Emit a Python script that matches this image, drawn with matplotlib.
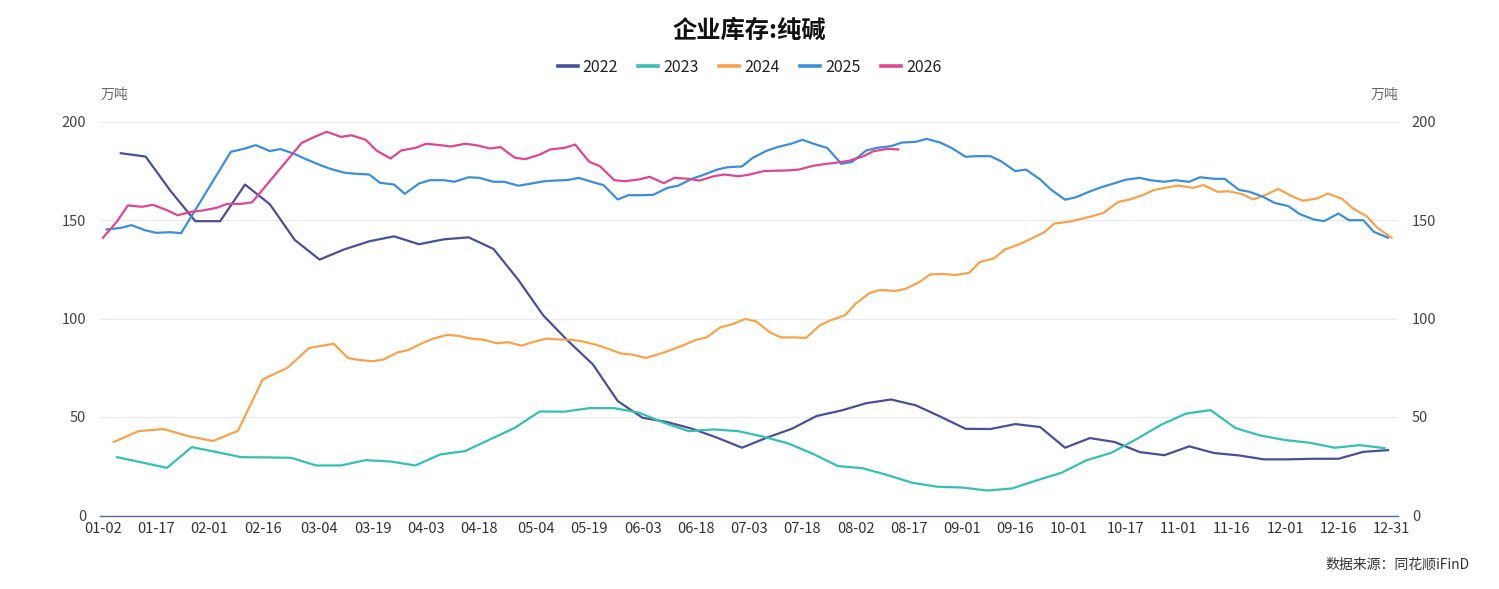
import matplotlib
matplotlib.use('Agg')
import matplotlib.pyplot as plt
from matplotlib.lines import Line2D
import pandas as pd

plt.rcParams['font.family'] = ['Noto Sans CJK SC', 'DejaVu Sans']

# Data
title = '企业库存:纯碱'
unit = '万吨'
source = '数据来源：同花顺iFinD'
years = ['2022', '2023', '2024', '2025', '2026']
colors = ['#4a5096', '#35c0b1', '#f6a34e', '#3d8ed8', '#df4690']

tick_labels = ['01-02', '01-17', '02-01', '02-16', '03-04', '03-19', '04-03', '04-18',
               '05-04', '05-19', '06-03', '06-18', '07-03', '07-18', '08-02', '08-17',
               '09-01', '09-16', '10-01', '10-17', '11-01', '11-16', '12-01', '12-16', '12-31']

# 2022, 2023: weekly (Fridays)
v2022 = [183.9, 182.2, 164.8, 149.4, 149.4, 168, 158, 139.9, 129.9, 135.1,
         139.2, 141.7, 137.7, 140.2, 141.2, 135.3, 119.6, 101.6, 88.6, 76.7,
         58.1, 49.6, 47.4, 44, 39.5, 34.4, 39.5, 44, 50.5, 53.3,
         57, 58.9, 55.9, 50.1, 44, 43.9, 46.4, 44.9, 34.4, 39.3,
         37.3, 32.2, 30.6, 35.1, 31.7, 30.5, 28.5, 28.5, 28.8, 28.8,
         32.3, 33.2]
v2023 = [29.6, 26.9, 24.2, 34.7, 32.2, 29.6, 29.5, 29.3, 25.4, 25.4,
         28.1, 27.4, 25.4, 31, 32.7, 38.6, 44.5, 52.8, 52.7, 54.5,
         54.5, 52.2, 47.1, 42.8, 43.7, 42.8, 40, 36.6, 31.3, 25.1,
         24, 20.5, 16.6, 14.6, 14.2, 12.7, 13.7, 17.8, 21.7, 28,
         31.8, 38.6, 46, 51.7, 53.5, 44.4, 40.6, 38.3, 36.9, 34.4,
         35.7, 34.2]

# 2024: weekly until 03-08, then Tue/Fri
v2024 = [37.3, 42.8, 43.9, 40.3, 37.8, 43, 69.1, 75, 85, 87.2,
         79.9, 79, 78.3, 79.2, 82.8, 84, 87.6, 89.8, 91.7, 91.2,
         89.7, 89.3, 87.4, 88, 86.2, 88, 89.8, 89.4, 89.2, 88.4,
         86.6, 84.8, 82.2, 81.7, 80, 81.6, 84, 86.1, 89.1, 90.4,
         95.6, 96.9, 99.8, 98.5, 92.8, 90.4, 90.4, 90.1, 96.6, 99.1,
         101.6, 107.5, 113, 114.5, 114, 115, 118.5, 122.4, 122.6, 122,
         123.2, 128.7, 130.5, 135, 137.6, 140.1, 143.6, 148.2, 149.1, 150.3,
         152.1, 153.8, 159.2, 160.3, 162.7, 165.2, 166.6, 167.5, 166.3, 167.7,
         164.3, 164.6, 163.1, 160.4, 163.1, 165.8, 162, 159.8, 160.9, 163.4,
         160.8, 156, 151.9, 146, 141]

# 2025: Tue/Fri, no data over the spring festival
v2025 = [145.2, 146, 147.4, 144.7, 143.5, 143.8, 143.3,
         184.6, 186.3, 188, 185, 186, 183.5, 181, 178, 176, 174,
         173.5, 173.1, 168.9, 168, 163.3, 168.5, 170.2, 170.2, 169.4, 171.7,
         171.4, 169.4, 169.4, 167.4, 168.3, 169.6, 170, 170.3, 171.4, 169.2,
         167.7, 160.4, 162.6, 162.6, 162.8, 166.3, 167.4, 171, 172.8, 175.6,
         176.8, 177.2, 181.5, 185.2, 187, 188.8, 190.7, 188.2, 186.6, 178.5,
         179.5, 185.3, 186.6, 187.5, 189.3, 189.7, 191.2, 189.2, 186.6, 182.1,
         182.4, 182.4, 179.8, 174.8, 175.6, 170.6, 165.5, 160.3, 161.5, 164.5,
         166.5, 168.7, 170.4, 171.4, 170.2, 169.4, 170.2, 169.4, 171.7, 170.9,
         170.9, 165.3, 164.3, 161.6, 158.7, 157, 153.1, 150.3, 149.4, 153.3,
         149.9, 149.9, 144, 141]

# 2026: Tue/Fri, no data over the spring festival
v2026 = [141, 149.4, 157.4, 156.7, 157.7, 155, 152.4, 154.2, 154.8, 156.2, 158.2, 158.2, 159,
         189.2, 192.5, 194.8, 192.2, 193, 190.7, 185.3, 181.2, 185.3, 186.6,
         188.7, 188, 187.3, 188.7, 188, 186.3, 187, 181.6, 180.9, 183.2,
         185.8, 186.6, 188.3, 179.5, 177.3, 170.2, 169.7, 170.6, 171.9, 168.7,
         171.4, 170.9, 170, 172.2, 173.1, 172.2, 173, 174.8, 175, 175.2,
         175.6, 177.5, 178.3, 179.2, 180, 182.2, 184.9, 186.1, 185.8]


def tue_fri(start, end):
    d = pd.date_range(start, end, freq='D')
    return d[d.weekday.isin([1, 4])]


d2022 = pd.date_range('2022-01-07', periods=len(v2022), freq='7D')
d2023 = pd.date_range('2023-01-06', periods=len(v2023), freq='7D')
d2024 = pd.date_range('2024-01-05', '2024-03-08', freq='7D').append(tue_fri('2024-03-12', '2024-12-31'))
d2025 = tue_fri('2025-01-03', '2025-01-24').append(tue_fri('2025-02-07', '2025-12-30'))
d2026 = tue_fri('2026-01-02', '2026-02-13').append(tue_fri('2026-02-27', '2026-08-14'))

series = [(d2022, v2022), (d2023, v2023), (d2024, v2024), (d2025, v2025), (d2026, v2026)]

origin = pd.Timestamp('2023-01-02')


def day_pos(dates):
    # place every year on the same month-day axis
    mmdd = pd.to_datetime('2023-' + pd.Index(dates).strftime('%m-%d'))
    return (mmdd - origin).days


W, H = 1499, 589
fig = plt.figure(figsize=(W / 100, H / 100), dpi=100)
ax = fig.add_axes([100 / W, 1 - 515.5 / H, 1298 / W, 394 / H])

for (dates, vals), c, y in zip(series, colors, years):
    ax.plot(day_pos(dates), vals, color=c, lw=1.6, label=y, solid_joinstyle='round')

ax.set_xlim(-0.85, 364.8)
ax.set_ylim(0, 200)
ax.set_xticks(day_pos(pd.to_datetime(['2023-' + t for t in tick_labels])))
ax.set_xticklabels(tick_labels)
ax.set_yticks([0, 50, 100, 150, 200])
ax.tick_params(axis='x', length=0, pad=4.5, labelsize=10.5, labelcolor='#333333')
ax.tick_params(axis='y', length=0, pad=10, labelsize=10.5, labelcolor='#444444')
for s in ['top', 'right', 'left']:
    ax.spines[s].set_visible(False)
ax.spines['bottom'].set_color('#5b6797')
ax.spines['bottom'].set_linewidth(1.0)
ax.yaxis.grid(True, color='#e8e9f0', lw=0.8)
ax.set_axisbelow(True)

ax2 = ax.twinx()
ax2.set_ylim(0, 200)
ax2.set_yticks([0, 50, 100, 150, 200])
ax2.tick_params(axis='y', length=0, pad=10, labelsize=10.5, labelcolor='#444444')
for s in ax2.spines.values():
    s.set_visible(False)

fig.text(0.5, 1 - 30.5 / H, title, ha='center', va='center', fontsize=17.5, fontweight='bold', color='#111111')
fig.text(114.5 / W, 1 - 95 / H, unit, ha='center', va='center', fontsize=10, color='#666666')
fig.text(1384 / W, 1 - 95 / H, unit, ha='center', va='center', fontsize=10, color='#666666')
fig.text(1470 / W, 1 - 565 / H, source, ha='right', va='center', fontsize=10, color='#333333')

handles = [Line2D([], [], color=c, lw=2.6) for c in colors]
fig.legend(handles, years, loc='center', bbox_to_anchor=(0.5, 1 - 67.5 / H), ncol=5, frameon=False,
           fontsize=11.5, handlelength=1.25, handletextpad=0.3, columnspacing=1.3, labelcolor='#222222')

fig.savefig('out.png', dpi=100)
